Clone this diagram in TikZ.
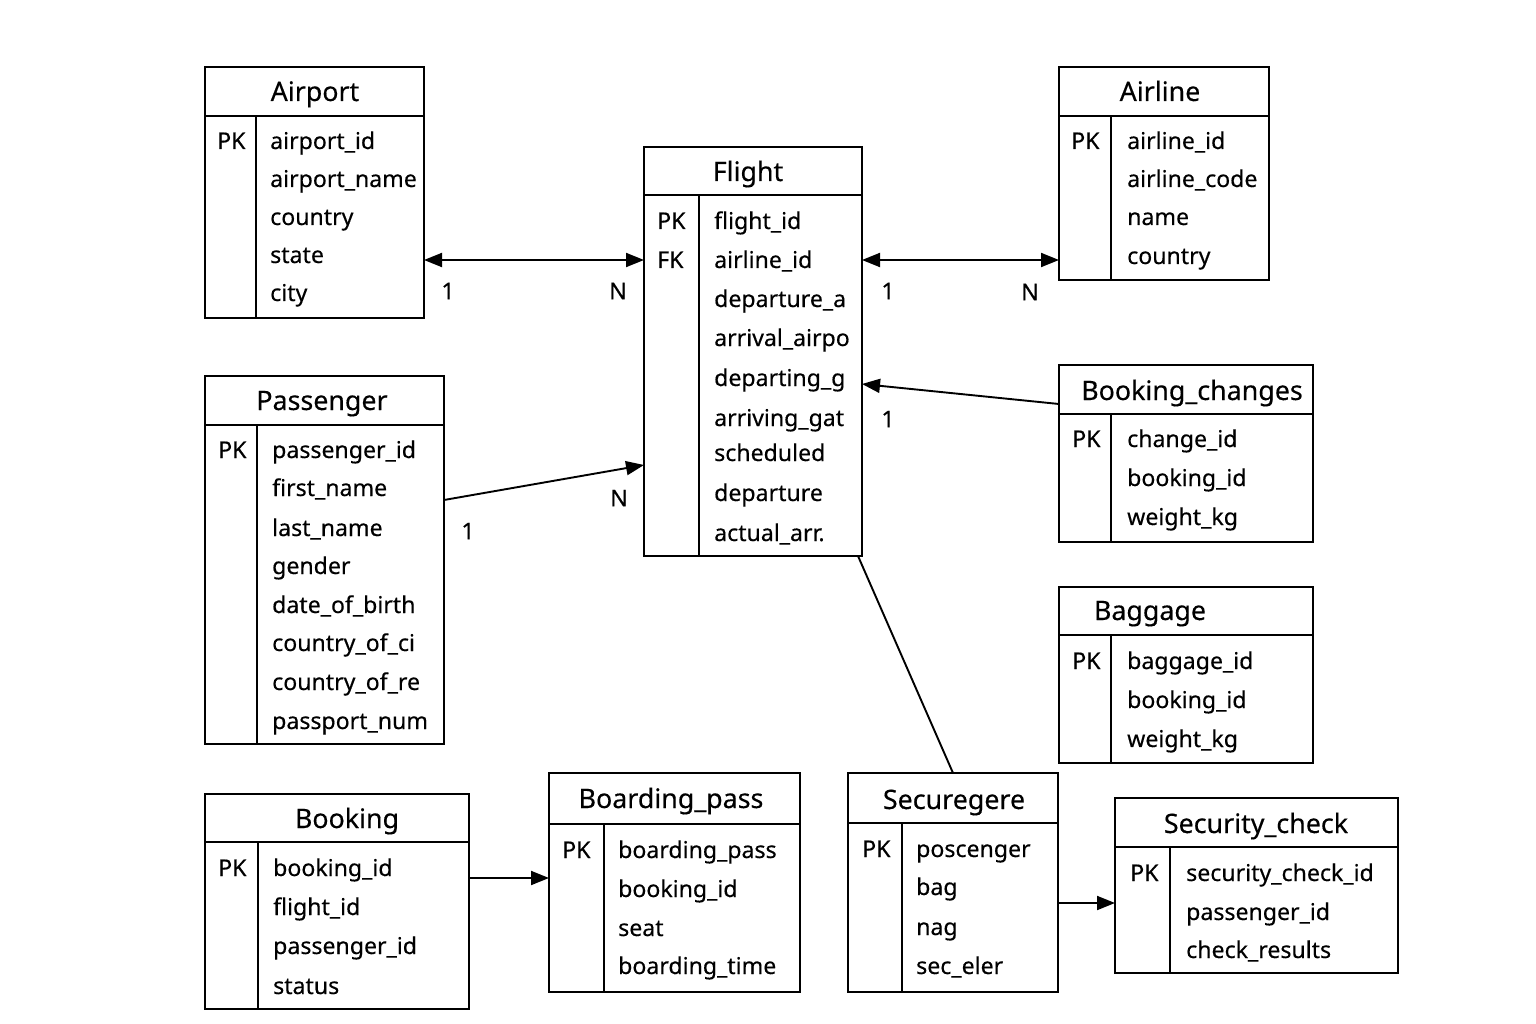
\documentclass[tikz,border=0pt]{standalone}
\usepackage{fontspec}
\setmainfont[FakeBold=0.35]{Noto Sans}
\usetikzlibrary{fit,arrows.meta}
\newcommand{\ertab}[7]{%
  \node[box, fit={(#2,#3) (#4,#5)}] (#1) {};
  \draw[rule] (#2,#6) -- (#4,#6);
  \draw[rule] (#7,#6) -- (#7,#5);
}
\newcommand{\fldnode}[4]{\node[fld] (#1) at (#2,#3) {#4};}
\newcommand{\ttlnode}[4]{\node[ttl] (#1) at (#2,#3) {#4};}
\begin{document}
\begin{tikzpicture}[x=1pt,y=-1pt,
  box/.style={draw, line width=1.9pt, inner sep=0pt, outer sep=0pt},
  rule/.style={line width=1.9pt},
  ttl/.style={anchor=base, inner sep=0pt, font=\fontsize{26.8}{30}\selectfont},
  fld/.style={anchor=base west, inner sep=0pt, font=\fontsize{23.1}{27}\selectfont},
  lbl/.style={inner sep=0pt, font=\fontsize{23}{26}\selectfont},
  conn/.style={line width=1.9pt},
  tip/.style={-{Triangle[length=18pt,width=14pt]}},
  dtip/.style={{Triangle[length=18pt,width=14pt]}-{Triangle[length=18pt,width=14pt]}}]
\useasboundingbox (0,0) rectangle (1536,1024);
\fill[white] (0,0) rectangle (1536,1024);

% Airport
\ertab{airport}{205}{67}{424}{318}{116}{256}
\ttlnode{airport-t}{315}{101}{Airport}
\fldnode{airport-k}{217}{149}{PK}
\fldnode{airport-1}{270}{149}{airport\_id}
\fldnode{airport-2}{270}{187}{airport\_name}
\fldnode{airport-3}{270}{225}{country}
\fldnode{airport-4}{270}{263}{state}
\fldnode{airport-5}{270}{301}{city}

% Flight
\ertab{flight}{644}{147}{862}{556}{195}{699}
\ttlnode{flight-t}{748}{181}{Flight}
\fldnode{flight-k}{657}{229}{PK}
\fldnode{flight-f}{657}{268}{FK}
\fldnode{flight-1}{714}{229}{flight\_id}
\fldnode{flight-2}{714}{268}{airline\_id}
\fldnode{flight-3}{714}{307}{departure\_a}
\fldnode{flight-4}{714}{346}{arrival\_airpo}
\fldnode{flight-5}{714}{386}{departing\_g}
\fldnode{flight-6}{714}{426}{arriving\_gat}
\fldnode{flight-7}{714}{461}{scheduled}
\fldnode{flight-8}{714}{501}{departure}
\fldnode{flight-9}{714}{541}{actual\_arr.}

% Airline
\ertab{airline}{1059}{67}{1269}{280}{116}{1111}
\ttlnode{airline-t}{1160}{101}{Airline}
\fldnode{airline-k}{1071}{149}{PK}
\fldnode{airline-1}{1127}{149}{airline\_id}
\fldnode{airline-2}{1127}{187}{airline\_code}
\fldnode{airline-3}{1127}{225}{name}
\fldnode{airline-4}{1127}{264}{country}

% Passenger
\ertab{passenger}{205}{376}{444}{744}{425}{257}
\ttlnode{passenger-t}{322}{410}{Passenger}
\fldnode{passenger-k}{218}{458}{PK}
\fldnode{passenger-1}{272}{458}{passenger\_id}
\fldnode{passenger-2}{272}{496}{first\_name}
\fldnode{passenger-3}{272}{536}{last\_name}
\fldnode{passenger-4}{272}{574}{gender}
\fldnode{passenger-5}{272}{613}{date\_of\_birth}
\fldnode{passenger-6}{272}{651}{country\_of\_ci}
\fldnode{passenger-7}{272}{690}{country\_of\_re}
\fldnode{passenger-8}{272}{729}{passport\_num}

% Booking_changes
\ertab{bchg}{1059}{365}{1313}{542}{414}{1111}
\ttlnode{bchg-t}{1192}{400}{Booking\_changes}
\fldnode{bchg-k}{1072}{447}{PK}
\fldnode{bchg-1}{1127}{447}{change\_id}
\fldnode{bchg-2}{1127}{486}{booking\_id}
\fldnode{bchg-3}{1127}{525}{weight\_kg}

% Baggage
\ertab{baggage}{1059}{587}{1313}{763}{635}{1111}
\ttlnode{baggage-t}{1150}{620}{Baggage}
\fldnode{baggage-k}{1072}{669}{PK}
\fldnode{baggage-1}{1127}{669}{baggage\_id}
\fldnode{baggage-2}{1127}{708}{booking\_id}
\fldnode{baggage-3}{1127}{747}{weight\_kg}

% Booking
\ertab{booking}{205}{794}{469}{1009}{842}{258}
\ttlnode{booking-t}{347}{828}{Booking}
\fldnode{booking-k}{218}{876}{PK}
\fldnode{booking-1}{273}{876}{booking\_id}
\fldnode{booking-2}{273}{915}{flight\_id}
\fldnode{booking-3}{273}{954}{passenger\_id}
\fldnode{booking-4}{273}{994}{status}

% Boarding_pass
\ertab{bpass}{549}{773}{800}{992}{824}{604}
\ttlnode{bpass-t}{671}{808}{Boarding\_pass}
\fldnode{bpass-k}{562}{858}{PK}
\fldnode{bpass-1}{618}{858}{boarding\_pass}
\fldnode{bpass-2}{618}{897}{booking\_id}
\fldnode{bpass-3}{618}{936}{seat}
\fldnode{bpass-4}{618}{974}{boarding\_time}

% Securegere
\ertab{secg}{848}{773}{1058}{992}{823}{902}
\ttlnode{secg-t}{954}{809}{Securegere}
\fldnode{secg-k}{862}{857}{PK}
\fldnode{secg-1}{916}{857}{poscenger}
\fldnode{secg-2}{916}{895}{bag}
\fldnode{secg-3}{916}{935}{nag}
\fldnode{secg-4}{916}{974}{sec\_eler}

% Security_check
\ertab{scheck}{1115}{798}{1398}{973}{847}{1170}
\ttlnode{scheck-t}{1256}{833}{Security\_check}
\fldnode{scheck-k}{1130}{881}{PK}
\fldnode{scheck-1}{1186}{881}{security\_check\_id}
\fldnode{scheck-2}{1186}{920}{passenger\_id}
\fldnode{scheck-3}{1186}{958}{check\_results}

% Connectors
\draw[conn,dtip] ([yshift=-193pt]airport.north east) -- ([yshift=-113pt]flight.north west);
\draw[conn,dtip] ([yshift=-113pt]flight.north east) -- ([yshift=-193pt]airline.north west);
\draw[conn,tip] ([yshift=-39pt]bchg.north west) -- ([yshift=-237pt]flight.north east);
\draw[conn,tip] ([yshift=-124pt]passenger.north east) -- ([yshift=-318pt]flight.north west);
\draw[conn] ([xshift=-4pt]flight.south east) -- (secg.north);
\draw[conn,tip] ([yshift=-84pt]booking.north east) -- ([yshift=-105pt]bpass.north west);
\draw[conn,tip] ([yshift=-130pt]secg.north east) -- ([yshift=-105pt]scheck.north west);

% Cardinality labels
\node[lbl] (l1) at (448,291) {1};
\node[lbl] (l2) at (618,291) {N};
\node[lbl] (l3) at (888,291) {1};
\node[lbl] (l4) at (1030,292) {N};
\node[lbl] (l5) at (888,419) {1};
\node[lbl] (l6) at (468,531) {1};
\node[lbl] (l7) at (619,498) {N};
\end{tikzpicture}
\end{document}
